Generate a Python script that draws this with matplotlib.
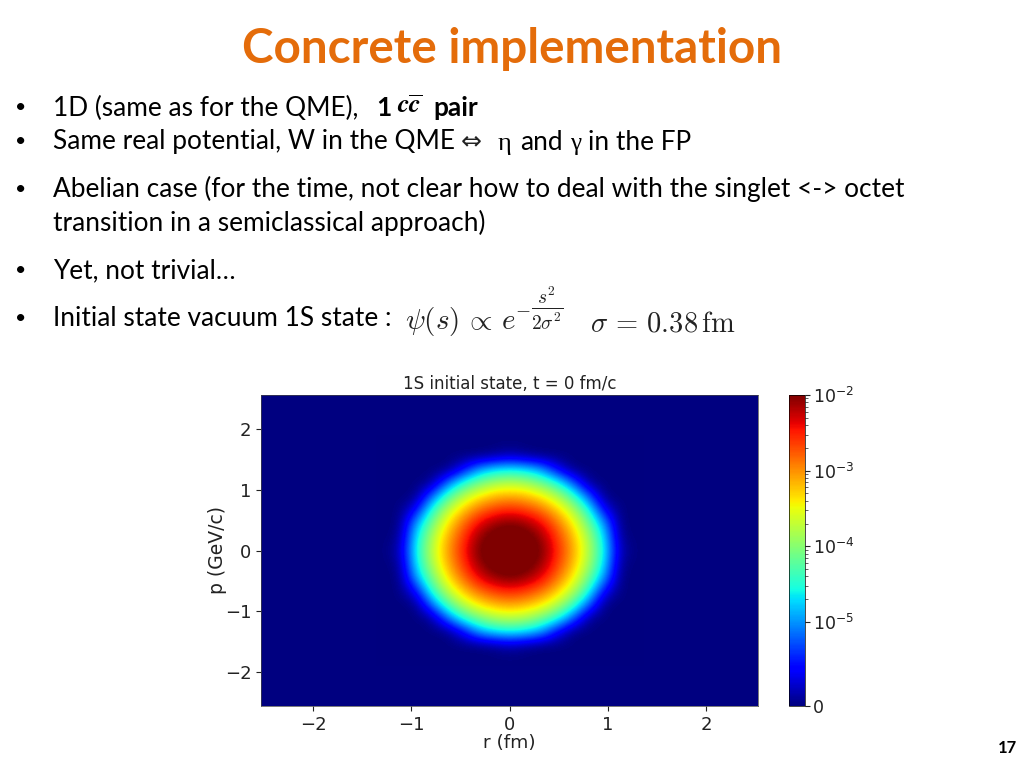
import matplotlib
matplotlib.use("Agg")
import matplotlib.pyplot as plt
import numpy as np
from matplotlib.cm import ScalarMappable
from matplotlib.colors import Normalize, SymLogNorm

# Density, one quadrant of the blob (r >= 0, p >= 0).
# Rows go with p_step, columns with r_step, and the other quadrants are mirrored.
r_step = 0.16
p_step = 0.222
quadrant = [
    [1.6e-2, 1.5e-2, 1.05e-2, 3.0e-3, 8.0e-4, 1.7e-4, 2.4e-5, 1.5e-6, 0],
    [1.5e-2, 1.4e-2, 8.0e-3, 2.4e-3, 6.6e-4, 1.4e-4, 1.9e-5, 5.0e-7, 0],
    [1.05e-2, 8.0e-3, 4.2e-3, 1.4e-3, 3.9e-4, 7.7e-5, 1.0e-5, 0, 0],
    [3.0e-3, 2.4e-3, 1.4e-3, 5.5e-4, 1.7e-4, 3.1e-5, 4.0e-6, 0, 0],
    [8.0e-4, 6.6e-4, 3.9e-4, 1.7e-4, 4.6e-5, 8.0e-6, 0, 0, 0],
    [1.7e-4, 1.4e-4, 7.7e-5, 3.1e-5, 8.0e-6, 5.0e-7, 0, 0, 0],
    [2.4e-5, 1.9e-5, 1.0e-5, 4.0e-6, 0, 0, 0, 0, 0],
    [1.5e-6, 5.0e-7, 0, 0, 0, 0, 0, 0, 0],
    [0, 0, 0, 0, 0, 0, 0, 0, 0],
]

r_ticks = [-2, -1, 0, 1, 2]
p_ticks = [-2, -1, 0, 1, 2]
cbar_ticks = [0, 1e-5, 1e-4, 1e-3, 1e-2]
cbar_labels = ["0", "$10^{-5}$", "$10^{-4}$", "$10^{-3}$", "$10^{-2}$"]
cbar_minor = [m * 10.0 ** e for e in (-5, -4, -3) for m in range(2, 10)]

bullets = [
    ("1D (same as for the QME),", 53, 107),
    ("Same real potential, W in the QME", 53, 141),
    ("Abelian case (for the time, not clear how to deal with the singlet <-> octet", 53, 188),
    ("transition in a semiclassical approach)", 53, 222),
    ("Yet, not trivial…", 53, 270),
    ("Initial state vacuum 1S state :", 53, 318),
]
bullet_y = [107, 141, 188, 270, 318]

W, H = 1024, 768
fig = plt.figure(figsize=(W / 100, H / 100), dpi=100, facecolor="white")


def put(x, y, s, **kw):
    # x, y are pixels from the top left of the slide
    kw.setdefault("va", "center")
    kw.setdefault("family", "Lato")
    return fig.text(x / W, 1 - y / H, s, **kw)


put(512, 49, "Concrete implementation", ha="center", fontsize=34.3, weight="bold", color="#E46C0A")

for s, x, y in bullets:
    put(x, y + 1, s, fontsize=18.9, color="black")
for y in bullet_y:
    put(15, y + 1, "•", fontsize=14, color="black")

put(376, 108, "1", fontsize=18.9, weight="bold")
put(397, 105, r"$\mathbfit{c}\overline{\mathbfit{c}}$", fontsize=19, math_fontfamily="stix")
put(433, 108, "pair", fontsize=18.9, weight="bold")

put(461, 141, "⇔", fontsize=18, family="DejaVu Sans", color="#222222")
put(498, 144, "η", fontsize=19, family="Liberation Serif")
put(520, 142, "and", fontsize=18.9)
put(570, 144, "γ", fontsize=18, family="Liberation Serif")
put(588, 142, "in the FP", fontsize=18.9)

# the formula is built in pieces because mathtext shrinks the exponent too far
put(405, 322, r"$\psi(s)\,\propto\,e$", fontsize=21, color="#222222", math_fontfamily="cm")
put(515, 309, r"$-$", fontsize=14, color="#222222", math_fontfamily="cm")
put(531, 308, r"$\frac{s^2}{2\sigma^2}$", fontsize=20, color="#222222", math_fontfamily="cm")
put(590, 323, r"$\sigma\,=\,0.38\,\mathrm{fm}$", fontsize=20.5, color="#222222", math_fontfamily="cm")
put(1007, 748, "17", ha="center", fontsize=12, weight="bold")

# density plot, placed by pixels
ax = fig.add_axes([261 / W, 1 - 706 / H, (758 - 261) / W, (706 - 395) / H])
cax = fig.add_axes([789 / W, 1 - 706 / H, (805 - 789) / W, (706 - 395) / H])

q = np.array(quadrant)
top = np.hstack([q[:, :0:-1], q])
density = np.vstack([top[:0:-1], top])
r_half = (q.shape[1] - 0.5) * r_step
p_half = (q.shape[0] - 0.5) * p_step

norm = SymLogNorm(linthresh=1e-5, linscale=1, vmin=0, vmax=1e-2, base=10)
# smooth in colourbar position, otherwise the thin cyan ring gets lost
position = np.asarray(norm(density))
ax.set_facecolor(plt.get_cmap("jet")(0.0))
ax.imshow(position, cmap="jet", norm=Normalize(0, 1), origin="lower", aspect="auto",
          extent=[-r_half, r_half, -p_half, p_half],
          interpolation="bicubic", interpolation_stage="data")
ax.set_xlim(-2.53, 2.53)
ax.set_ylim(-2.55, 2.55)
ax.set_xticks(r_ticks)
ax.set_yticks(p_ticks)
ax.tick_params(labelsize=13, colors="#222222", length=3.5, width=0.8)
ax.set_xlabel("r (fm)", fontsize=13.3, color="#222222", labelpad=0)
ax.set_ylabel("p (GeV/c)", fontsize=13.5, color="#222222", labelpad=-2)
ax.set_title("1S initial state, t = 0 fm/c", fontsize=12, color="#222222", pad=4)
for sp in ax.spines.values():
    sp.set_linewidth(0.5)
    sp.set_color("#444444")

cb = fig.colorbar(ScalarMappable(norm=norm, cmap="jet"), cax=cax)
cb.set_ticks(cbar_ticks, labels=cbar_labels)
cax.set_yticks(cbar_minor, minor=True)
cax.tick_params(which="major", labelsize=12.5, colors="#222222", length=3.5, width=0.8, pad=2)
cax.tick_params(which="minor", length=2, width=0.6, colors="#444444")
for lab in cax.get_yticklabels():
    lab.set_math_fontfamily("dejavusans")
cb.outline.set_linewidth(0.5)

fig.savefig("out.png", dpi=100)
